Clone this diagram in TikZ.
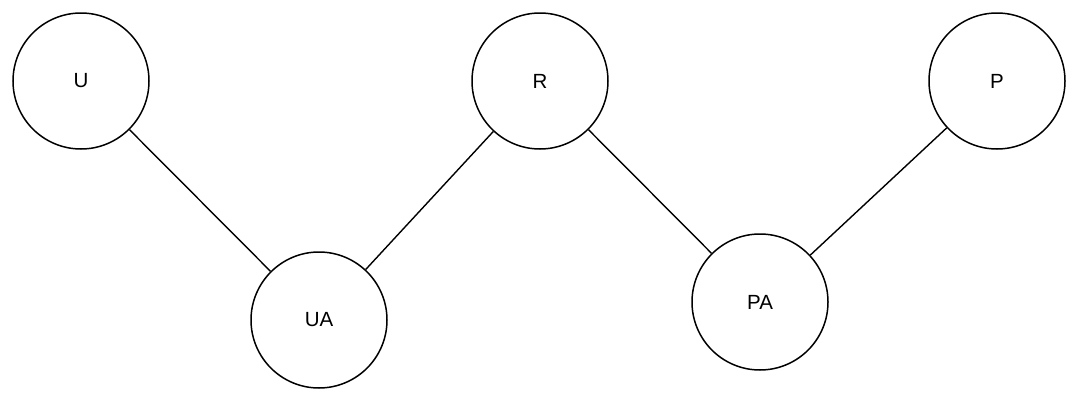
\documentclass[tikz,border=0pt]{standalone}
\usepackage{fontspec}
\setmainfont{Liberation Sans}
\begin{document}
\begin{tikzpicture}[x=1pt,y=-1pt,
  state/.style={circle,draw=black,line width=1.5pt,minimum size=136pt,inner sep=0pt,font=\fontsize{20.5}{22}\selectfont},
  link/.style={draw=black,line width=1.4pt}]
\useasboundingbox (0,0) rectangle (1080,402);
\node[state] (U) at (81,81) {U};
\node[state] (R) at (540,81) {R};
\node[state] (P) at (997,81) {P};
\node[state] (UA) at (319,320) {UA};
\node[state] (PA) at (760,302) {PA};
\draw[link] (U) -- (UA);
\draw[link] (UA) -- (R);
\draw[link] (R) -- (PA);
\draw[link] (PA) -- (P);
\end{tikzpicture}
\end{document}
